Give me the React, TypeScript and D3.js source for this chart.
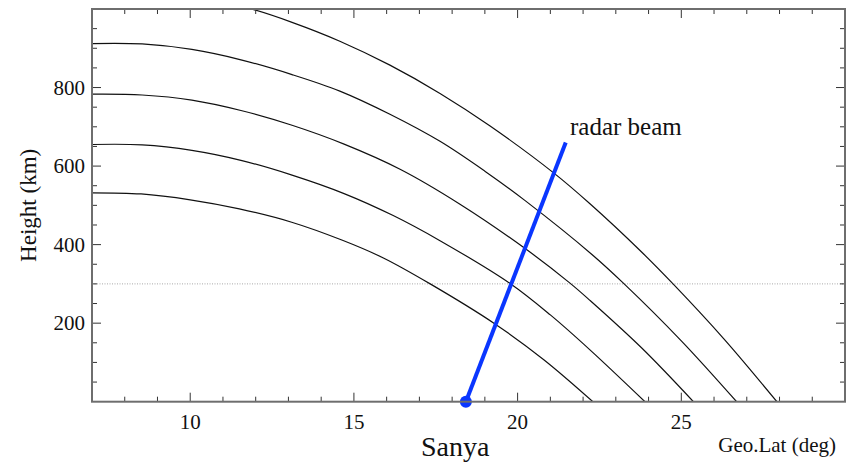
import * as d3 from "d3";

// field lines: [geo lat (deg), height (km)]
const line1 = [[7, 532], [8.5, 529], [10, 514], [11.5, 491], [13.1, 457], [14.65, 411], [15.9, 366], [17.33, 300], [19.31, 198], [20.8, 107], [22.3, 0]];
const line2 = [[7, 655], [8.53, 654], [10.05, 640], [11.58, 614], [13.11, 577], [14.7, 530], [16.2, 474], [17.63, 410], [19.77, 301], [21, 221], [22.21, 132], [23.89, 0]];
const line3 = [[7, 783], [8.53, 781], [10.05, 768], [11.58, 741], [13.11, 704], [14.7, 656], [16.41, 592], [18.24, 503], [20.23, 390], [21.6, 302], [22.21, 258], [23.8, 136], [25.37, 0]];
const line4 = [[7, 912], [8.53, 911], [10.05, 897], [11.58, 870], [13.11, 833], [14.57, 791], [16.1, 732], [17.63, 663], [19, 587], [20.23, 512], [22.27, 375], [23.23, 302], [25, 155], [26.69, 0]];
const line5 = [[7, 1053], [8.5, 1052], [10, 1037], [11.87, 1000], [13.11, 966], [14.57, 918], [16.1, 857], [17.63, 785], [19.16, 702], [21.11, 582], [22.21, 504], [23.74, 385], [24.77, 298], [26.3, 160], [27.92, 0]];
const fieldLines = [line1, line2, line3, line4, line5];

const beam = [[18.42, 0], [21.47, 660]];
const refHeight = 300;

const xTicks = [10, 15, 20, 25];
const xMinor = d3.range(8, 30);
const yTicks = [200, 400, 600, 800];
const yMinor = d3.range(50, 1000, 50);

const W = 851;
const H = 463;
const left = 92, right = 845, top = 9, bottom = 401.7;

export default function App() {
  const x = d3.scaleLinear().domain([7, 30]).range([left, right]);
  const y = d3.scaleLinear().domain([0, 1000]).range([bottom, top]);

  const line = d3.line<number[]>()
    .x(d => x(d[0]))
    .y(d => y(d[1]))
    .curve(d3.curveCatmullRom.alpha(0.5));

  const font = "'Liberation Serif', 'Times New Roman', serif";
  const axisColor = "#6e6e6e";

  return (
    <svg width={W} height={H} style={{ position: "absolute", left: 0, top: 0, background: "#fff" }} fontFamily={font}>
      <defs>
        <clipPath id="plot">
          <rect x={left} y={top} width={right - left} height={bottom - top} />
        </clipPath>
      </defs>

      {/* dotted reference line */}
      <line x1={left} x2={right} y1={y(refHeight)} y2={y(refHeight)} stroke="#a8a8a8" strokeWidth={1} strokeDasharray="1,1.5" />

      <g clipPath="url(#plot)">
        {fieldLines.map((d, i) => (
          <path key={i} d={line(d) || ""} fill="none" stroke="#111" strokeWidth={1.2} />
        ))}
      </g>

      {/* radar beam */}
      <line x1={x(beam[0][0])} y1={y(beam[0][1])} x2={x(beam[1][0])} y2={y(beam[1][1])} stroke="#0a36ff" strokeWidth={4} />
      <circle cx={x(beam[0][0])} cy={y(beam[0][1])} r={6} fill="#0a36ff" />

      {/* ticks, all four sides, pointing in */}
      <g stroke="#333" strokeWidth={1}>
        {xMinor.map(v => {
          const len = xTicks.includes(v) ? 9 : 5;
          return (
            <g key={"x" + v}>
              <line x1={x(v)} x2={x(v)} y1={bottom} y2={bottom - len} />
              <line x1={x(v)} x2={x(v)} y1={top} y2={top + len} />
            </g>
          );
        })}
        {yMinor.map(v => {
          const len = yTicks.includes(v) ? 9 : 5;
          return (
            <g key={"y" + v}>
              <line x1={left} x2={left + len} y1={y(v)} y2={y(v)} />
              <line x1={right} x2={right - len} y1={y(v)} y2={y(v)} />
            </g>
          );
        })}
      </g>

      {/* frame */}
      <rect x={left} y={top} width={right - left} height={bottom - top} fill="none" stroke={axisColor} strokeWidth={2} />

      {/* tick labels */}
      <g fontSize={21} fill="#111">
        {xTicks.map(v => (
          <text key={"xl" + v} x={x(v)} y={429} textAnchor="middle">{v}</text>
        ))}
        {yTicks.map(v => (
          <text key={"yl" + v} x={85} y={y(v) + 7} textAnchor="end">{v}</text>
        ))}
      </g>

      <text transform={`translate(36, ${y(500)}) rotate(-90)`} textAnchor="middle" fontSize={23} fill="#111">Height (km)</text>
      <text x={x(18.4) - 10} y={456} textAnchor="middle" fontSize={28} fill="#111">Sanya</text>
      <text x={836} y={452} textAnchor="end" fontSize={21} fill="#111">Geo.Lat (deg)</text>
      <text x={570} y={135} fontSize={25} fill="#111">radar beam</text>
    </svg>
  );
}
